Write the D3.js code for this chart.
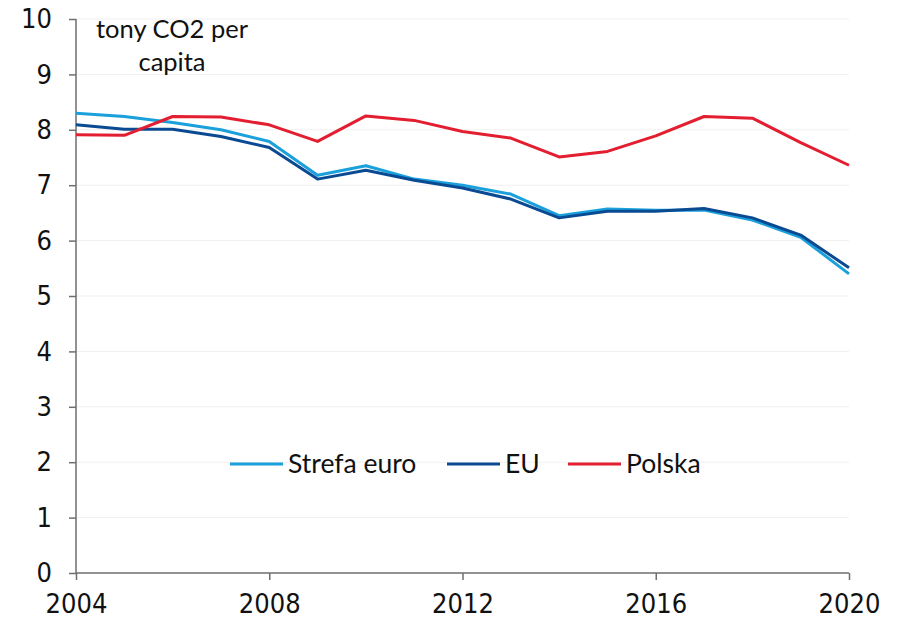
<!DOCTYPE html>
<html>
<head>
<meta charset="utf-8">
<script src="https://cdn.jsdelivr.net/npm/d3@7"></script>
<style>
  html, body { margin: 0; padding: 0; background: #fff; }
  svg { display: block; }
  .tick text { font-family: "Liberation Sans Narrow", "DejaVu Sans Condensed", sans-serif; font-stretch: condensed; }
</style>
</head>
<body>
<svg id="chart" width="900" height="618"></svg>
<script>
// Annual CO2 emissions, tonnes per capita
const years = d3.range(2004, 2021);
const strefaEuro = [8.30, 8.24, 8.13, 8.00, 7.79, 7.18, 7.35, 7.11, 7.00, 6.84, 6.45, 6.57, 6.55, 6.55, 6.37, 6.06, 5.40];
const eu         = [8.09, 8.01, 8.01, 7.88, 7.68, 7.11, 7.27, 7.09, 6.95, 6.75, 6.41, 6.53, 6.53, 6.58, 6.41, 6.10, 5.51];
const polska     = [7.91, 7.90, 8.24, 8.23, 8.09, 7.79, 8.25, 8.17, 7.97, 7.85, 7.51, 7.61, 7.89, 8.24, 8.21, 7.77, 7.36];
const xTicks = [2004, 2008, 2012, 2016, 2020];
const yTicks = d3.range(0, 11);

const seriesList = [
  { name: "Strefa euro", values: strefaEuro, color: "#1aa0db" },
  { name: "EU",          values: eu,         color: "#0a4a92" },
  { name: "Polska",      values: polska,     color: "#e31e30" }
];

const svg = d3.select("#chart");
const plotLeft = 76, plotRight = 849, plotTop = 19, plotBottom = 573;

const x = d3.scaleLinear().domain([2004, 2020]).range([plotLeft, plotRight]);
const y = d3.scaleLinear().domain([0, 10]).range([plotBottom, plotTop]);

// light horizontal gridlines
svg.append("g")
  .selectAll("line")
  .data(yTicks.filter(d => d > 0))
  .join("line")
  .attr("x1", plotLeft).attr("x2", plotRight)
  .attr("y1", d => y(d)).attr("y2", d => y(d))
  .attr("stroke", "#f0f0f0").attr("stroke-width", 1);

// y axis
const yAxis = svg.append("g")
  .attr("transform", `translate(${plotLeft},0)`)
  .call(d3.axisLeft(y).tickValues(yTicks).tickSize(7).tickPadding(17).tickFormat(d3.format("d")));
yAxis.selectAll("path, line").attr("stroke", "#6e6e6e").attr("stroke-width", 1.5);
yAxis.select(".domain").attr("d", `M0,${plotTop}V${plotBottom}`);
yAxis.selectAll("text").attr("font-size", 27).attr("fill", "#111");

// x axis
const xAxis = svg.append("g")
  .attr("transform", `translate(0,${plotBottom})`)
  .call(d3.axisBottom(x).tickValues(xTicks).tickSize(7).tickPadding(14).tickFormat(d3.format("d")));
xAxis.selectAll("path, line").attr("stroke", "#6e6e6e").attr("stroke-width", 1.5);
xAxis.select(".domain").attr("d", `M${plotLeft},0H${plotRight}`);
xAxis.selectAll("text").attr("font-size", 27).attr("fill", "#111");

// series lines
const line = d3.line()
  .x((d, i) => x(years[i]))
  .y(d => y(d));

svg.append("g")
  .selectAll("path")
  .data(seriesList)
  .join("path")
  .attr("d", s => line(s.values))
  .attr("fill", "none")
  .attr("stroke", s => s.color)
  .attr("stroke-width", 3)
  .attr("stroke-linejoin", "round");

// unit label
const unit = svg.append("text")
  .attr("text-anchor", "middle")
  .attr("font-family", "Lato, 'Noto Sans', sans-serif")
  .attr("font-size", 25.5)
  .attr("fill", "#111");
unit.append("tspan").attr("x", 172).attr("y", 38).text("tony CO2 per");
unit.append("tspan").attr("x", 172).attr("y", 71).text("capita");

// legend
const legendPos = [230, 447, 568];
const legend = svg.append("g")
  .selectAll("g")
  .data(seriesList)
  .join("g")
  .attr("transform", (d, i) => `translate(${legendPos[i]},464)`);
legend.append("line")
  .attr("x1", 0).attr("x2", 53)
  .attr("stroke", d => d.color).attr("stroke-width", 3);
legend.append("text")
  .attr("x", 58).attr("y", 9)
  .attr("font-family", "Lato, 'Noto Sans', sans-serif")
  .attr("font-size", 26.5)
  .attr("fill", "#111")
  .text(d => d.name);
</script>
</body>
</html>
